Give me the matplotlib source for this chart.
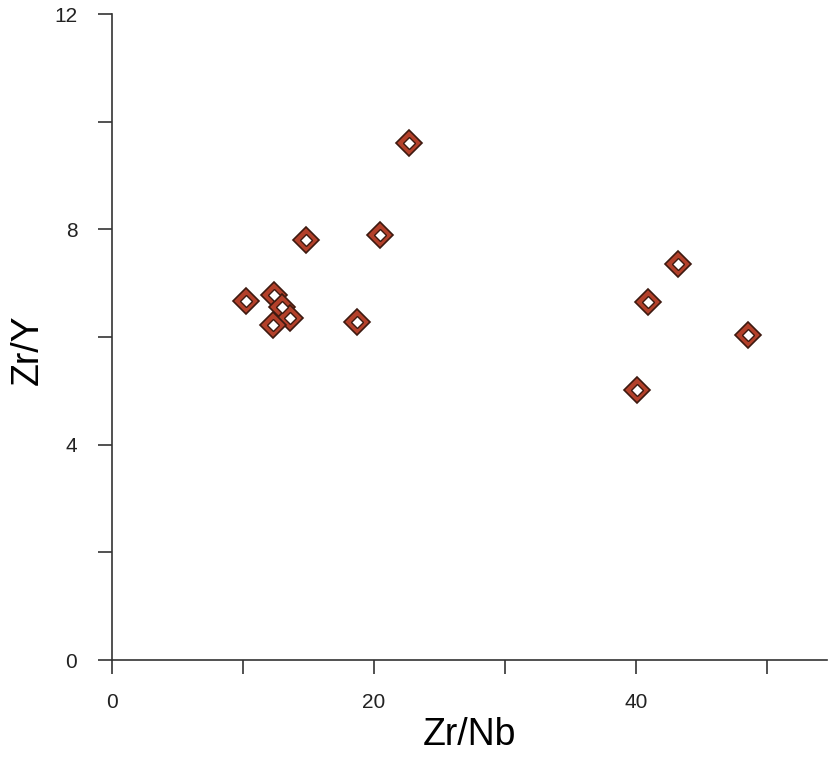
import matplotlib
matplotlib.use("Agg")
import matplotlib.pyplot as plt

# Zr/Nb vs Zr/Y ratios
zr_nb = [10.2, 12.4, 13.0, 13.6, 12.3, 14.8, 18.7, 20.5, 22.7, 40.1, 40.9, 43.2, 48.6]
zr_y = [6.67, 6.78, 6.56, 6.35, 6.23, 7.81, 6.28, 7.89, 9.61, 5.02, 6.65, 7.35, 6.04]

x_major = [0, 20, 40]
x_minor = [10, 30, 50]
y_major = [0, 4, 8, 12]
y_minor = [2, 6, 10]

plt.rcParams['font.family'] = ['Liberation Sans', 'DejaVu Sans']

fig = plt.figure(figsize=(8.29, 7.58), dpi=100)
ax = fig.add_axes([112 / 829, 1 - 660 / 758, 715 / 829, 646 / 758])

# outer brown ring then a white centre
ax.plot(zr_nb, zr_y, linestyle='none', marker='D', markersize=13,
        markerfacecolor='#b3402a', markeredgecolor='#3d1a10', markeredgewidth=1.2,
        clip_on=False, zorder=3)
ax.plot(zr_nb, zr_y, linestyle='none', marker='D', markersize=6.5,
        markerfacecolor='white', markeredgecolor='#3d1a10', markeredgewidth=1.0,
        clip_on=False, zorder=4)

ax.set_xlim(0, 54.6)
ax.set_ylim(0, 12)
ax.set_xticks(x_major)
ax.set_xticks(x_minor, minor=True)
ax.set_yticks(y_major)
ax.set_yticks(y_minor, minor=True)

for s in ['top', 'right']:
    ax.spines[s].set_visible(False)
for s in ['left', 'bottom']:
    ax.spines[s].set_color('#333333')
    ax.spines[s].set_linewidth(1.2)

ax.tick_params(which='both', direction='out', length=10, width=1.2, color='#333333')
ax.tick_params(which='major', labelsize=15, labelcolor='#222222')
ax.tick_params(axis='x', which='major', pad=14)
ax.tick_params(axis='y', which='major', pad=15)

ax.set_xlabel('Zr/Nb', fontsize=27, va='center')
ax.set_ylabel('Zr/Y', fontsize=27, va='center')
ax.xaxis.set_label_coords(0.5, (660 - 735) / 646)
ax.yaxis.set_label_coords((28 - 112) / 715, 0.48)

fig.savefig('out.png', dpi=100)
